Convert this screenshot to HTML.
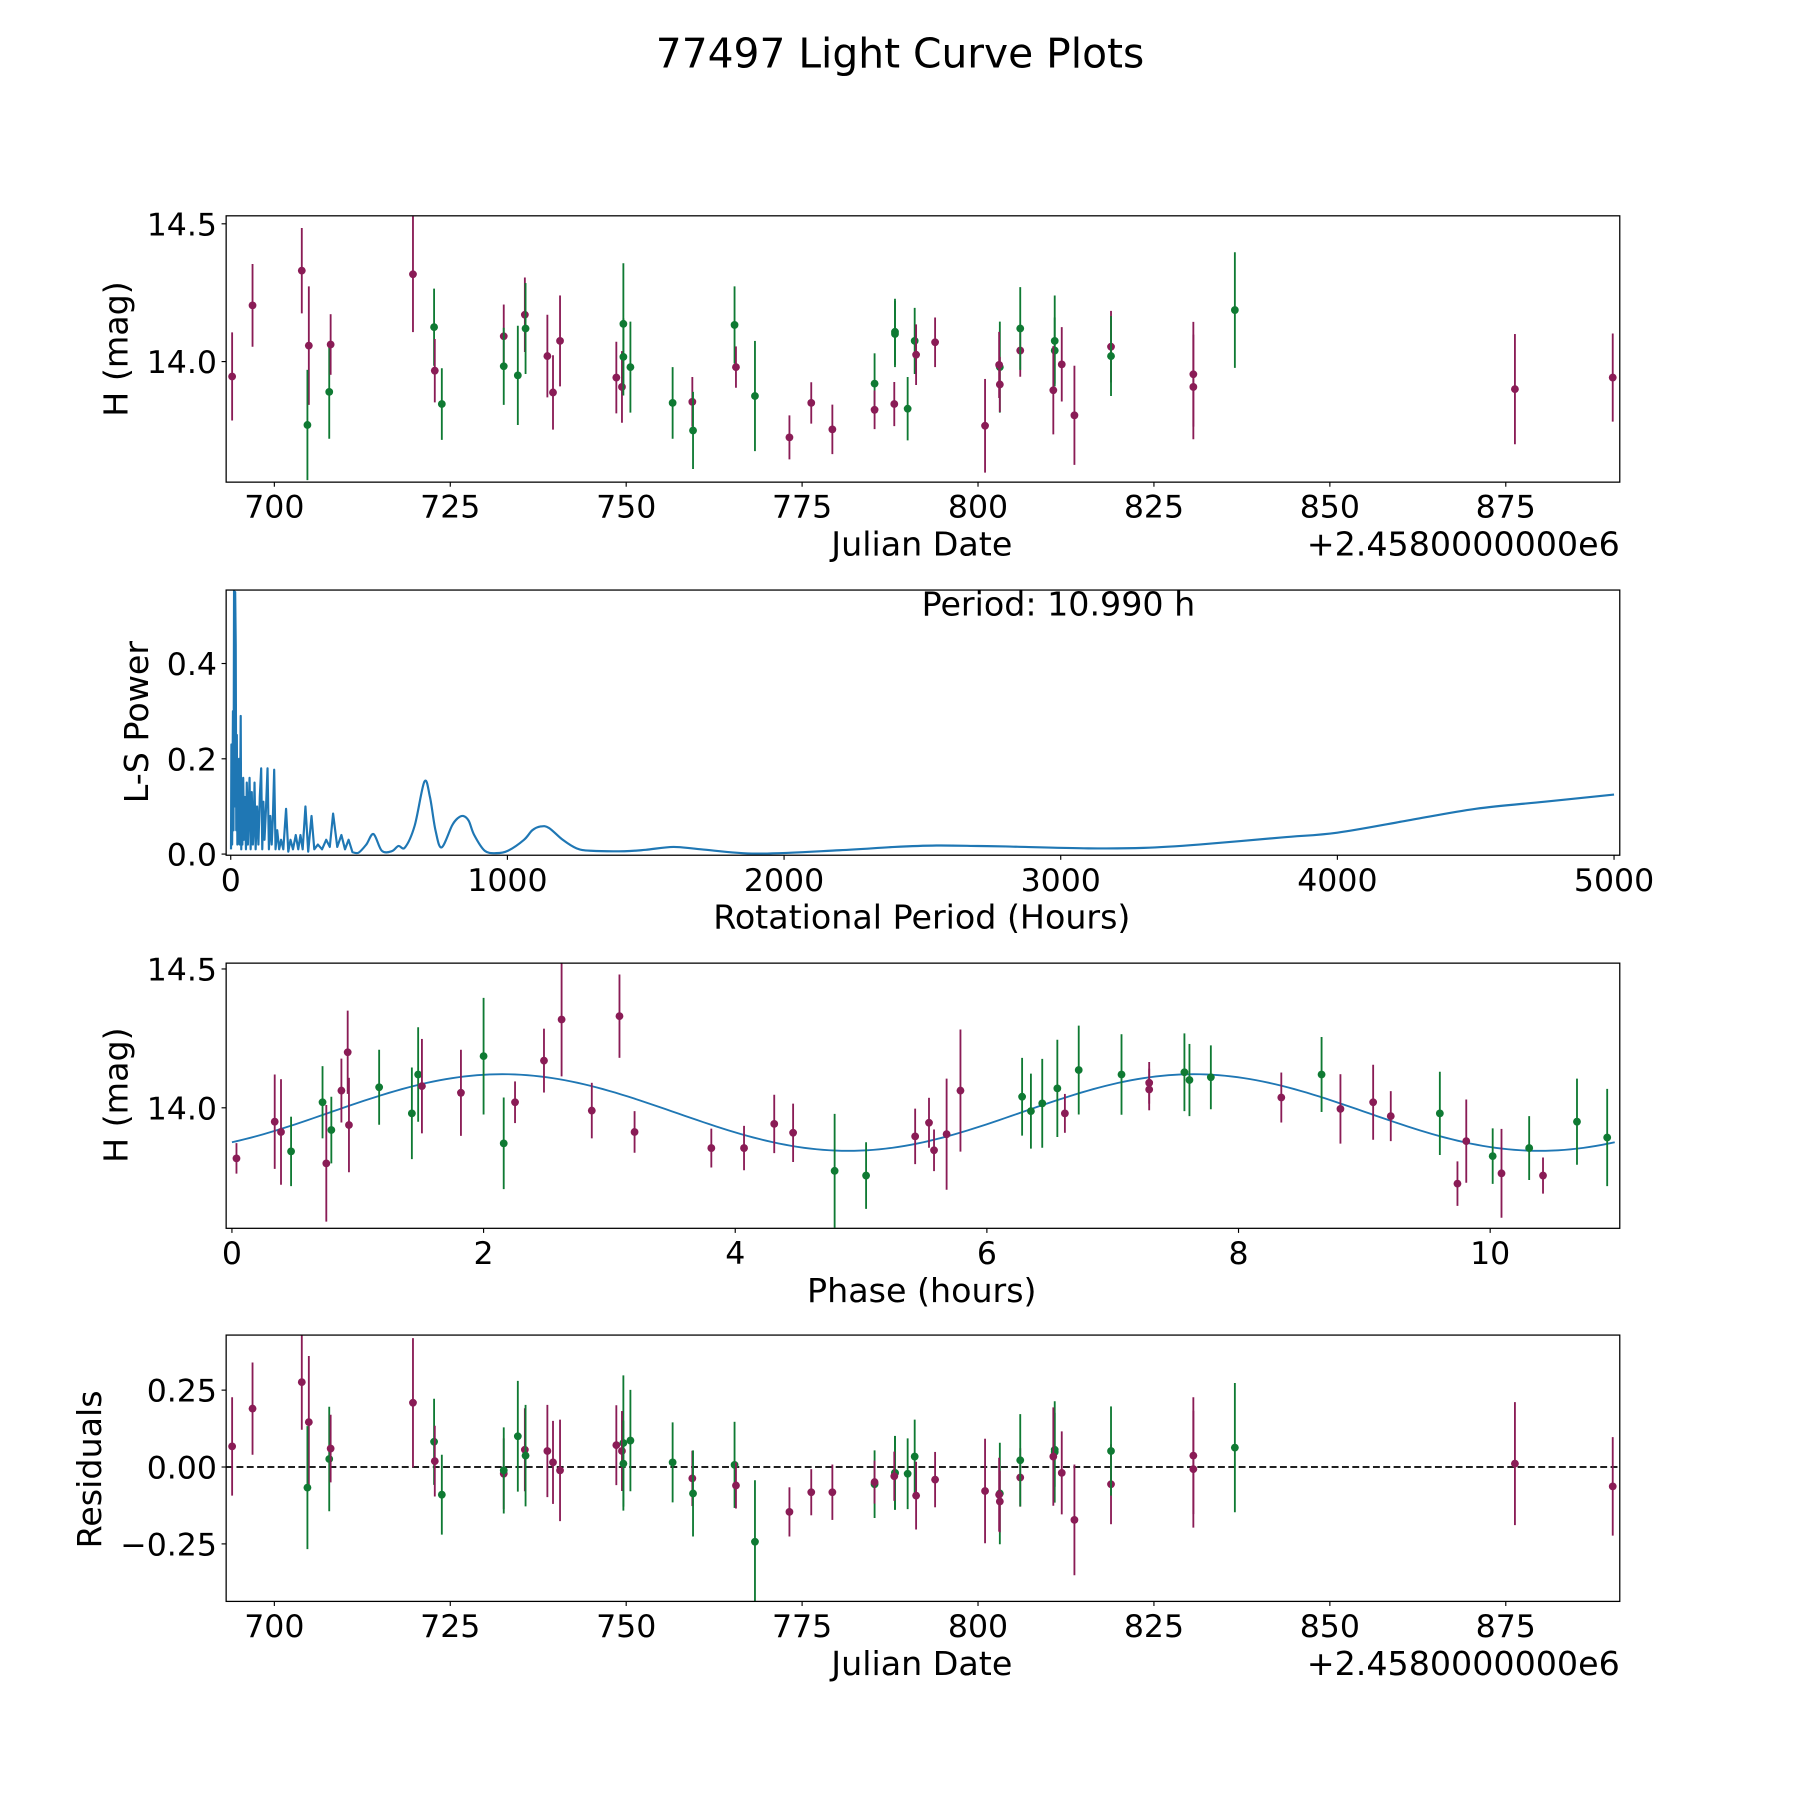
<!DOCTYPE html>
<html><head><meta charset="utf-8"><style>
html,body{margin:0;padding:0;background:#fff}
svg{display:block}
text{font-family:"DejaVu Sans","Liberation Sans",sans-serif;fill:#000}
</style></head><body>
<svg id="fig" width="1800" height="1800" viewBox="0 0 1568 1568" xmlns="http://www.w3.org/2000/svg">
<rect width="1568" height="1568" fill="#fff"/>
<text x="784" y="59" font-size="35.5" text-anchor="middle">77497 Light Curve Plots</text>
</svg>
<script>
// ---------- Data: raw light curve ----------
const dates = [694.0,696.9,703.9,704.9,704.7,707.8,708.0,719.7,722.7,722.8,723.8,732.6,732.6,734.6,735.6,735.7,738.8,739.6,740.6,748.6,749.6,749.4,749.6,750.6,756.6,759.4,759.5,765.4,765.6,768.3,773.2,776.3,779.3,785.3,785.3,788.2,788.2,788.1,790.0,791.0,791.2,793.9,801.0,803.1,803.0,803.1,806.0,806.0,810.9,810.9,810.7,811.9,813.7,818.9,818.9,830.6,830.6,836.5,876.3,890.2];
const mags = [13.946,14.204,14.33,14.058,13.77,13.89,14.062,14.317,14.125,13.967,13.846,14.092,13.983,13.95,14.17,14.12,14.02,13.888,14.075,13.942,14.137,13.908,14.017,13.98,13.85,13.854,13.75,14.133,13.98,13.875,13.725,13.85,13.754,13.92,13.825,14.108,14.1,13.846,13.829,14.075,14.025,14.07,13.767,13.98,13.988,13.917,14.04,14.12,14.075,14.04,13.896,13.99,13.805,14.054,14.02,13.954,13.908,14.187,13.9,13.942];
const magErrs = [0.16,0.15,0.155,0.215,0.2,0.17,0.11,0.21,0.14,0.115,0.13,0.115,0.14,0.18,0.135,0.165,0.15,0.135,0.165,0.13,0.22,0.13,0.14,0.165,0.13,0.09,0.14,0.14,0.075,0.2,0.08,0.075,0.09,0.11,0.07,0.12,0.12,0.08,0.115,0.12,0.11,0.09,0.17,0.165,0.12,0.1,0.095,0.15,0.165,0.12,0.16,0.135,0.18,0.13,0.145,0.19,0.19,0.21,0.2,0.16];
const filters = ['p','p','p','p','g','g','p','p','g','p','g','p','g','g','p','g','p','p','p','p','g','p','g','g','g','p','g','g','p','g','p','p','p','g','p','g','g','p','g','g','p','p','p','g','p','p','p','g','g','g','p','p','p','p','g','p','p','g','p','p'];
const residuals = [0.067,0.19,0.276,0.146,-0.067,0.026,0.06,0.209,0.082,0.019,-0.09,-0.022,-0.011,0.1,0.056,0.037,0.052,0.015,-0.011,0.071,0.078,0.052,0.011,0.086,0.015,-0.037,-0.086,0.007,-0.06,-0.243,-0.146,-0.082,-0.082,-0.056,-0.049,-0.019,-0.019,-0.03,-0.022,0.034,-0.093,-0.041,-0.078,-0.086,-0.09,-0.112,-0.034,0.022,0.049,0.056,0.034,-0.019,-0.172,-0.056,0.052,0.037,-0.007,0.063,0.011,-0.063];
// ---------- Data: phased ----------
const phases = [0.036,0.34,0.39,0.47,0.72,0.75,0.79,0.87,0.92,0.93,1.17,1.43,1.48,1.51,1.82,2.0,2.16,2.25,2.48,2.62,2.86,3.08,3.2,3.81,4.07,4.31,4.46,4.79,5.04,5.43,5.54,5.58,5.68,5.79,6.28,6.35,6.44,6.56,6.62,6.73,7.07,7.29,7.29,7.57,7.61,7.78,8.34,8.66,8.81,9.07,9.21,9.6,9.74,9.81,10.02,10.09,10.31,10.42,10.69,10.93];
const phaseMags = [13.818,13.95,13.913,13.843,14.02,13.80,13.92,14.062,14.2,13.938,14.074,13.98,14.12,14.078,14.054,14.186,13.872,14.02,14.17,14.318,13.99,14.33,13.913,13.855,13.855,13.942,13.91,13.773,13.756,13.897,13.946,13.847,13.905,14.062,14.04,13.988,14.016,14.07,13.98,14.136,14.12,14.09,14.066,14.128,14.1,14.11,14.037,14.12,13.996,14.02,13.97,13.98,13.727,13.88,13.826,13.764,13.855,13.756,13.95,13.893];
const phaseErrs = [0.055,0.17,0.19,0.125,0.13,0.21,0.12,0.115,0.15,0.17,0.135,0.165,0.17,0.17,0.155,0.21,0.165,0.075,0.115,0.205,0.1,0.15,0.075,0.07,0.08,0.105,0.105,0.205,0.12,0.1,0.09,0.075,0.2,0.22,0.14,0.135,0.16,0.175,0.07,0.16,0.145,0.075,0.075,0.14,0.13,0.115,0.09,0.135,0.125,0.135,0.09,0.15,0.08,0.15,0.1,0.16,0.115,0.065,0.155,0.175];
const phaseFilters = ['p','p','p','g','g','p','g','p','p','p','g','g','g','p','p','g','g','p','p','p','p','p','p','p','p','p','p','g','g','p','p','p','p','p','g','g','g','g','p','g','g','p','p','g','g','g','p','g','p','p','p','g','p','p','g','p','g','p','g','g'];
// fit model parameters: [mean, amplitude, peak phase, sub-period]
const fitParams = [13.983, 0.138, 2.15, 5.495];
// ---------- Data: periodogram, spiky short-period region ----------
const spikePeriods = [
 1,2.4,5,8,10,12,14,16,18,20,
 22,24,26,28,30,32,34,36,38,40,
 42,45,48,51,55,58,62,65,68,72,
 76,80,83,86,90,95,100,105,110,114,
 118,122,127,133,138,143,148,152,157,162,
 168,175,182,190,200,208,216,225,235,244,
 252,260,270,280,292,302,315,330,345,358,
 370,385,400,413,426,440];
const spikePower = [
 0.01,0.23,0.02,0.3,0.05,0.56,0.1,0.55,0.44,0.05,
 0.25,0.02,0.18,0.03,0.2,0.02,0.12,0.29,0.01,0.15,
 0.02,0.16,0.03,0.12,0.01,0.15,0.02,0.1,0.16,0.01,
 0.13,0.02,0.06,0.15,0.01,0.1,0.02,0.12,0.18,0.01,
 0.11,0.03,0.09,0.18,0.01,0.08,0.02,0.07,0.177,0.01,
 0.05,0.01,0.03,0.01,0.095,0.005,0.03,0.01,0.04,0.01,
 0.04,0.01,0.1,0.005,0.08,0.01,0.02,0.01,0.03,0.015,
 0.085,0.015,0.04,0.01,0.03,0.004];
// ---------- Data: periodogram, smooth long-period region ----------
const smoothPeriods = [
 440,462,490,516,546,582,606,630,665,700,
 720,740,762,800,820,840,860,880,918,960,
 1002,1060,1090,1120,1150,1200,1250,1302,1423,1500,
 1600,1700,1900,2200,2400,2550,2700,2800,3100,3300,
 3500,3800,4000,4250,4500,4750,5000];
const smoothPower = [
 0.004,0.003,0.02,0.042,0.007,0.006,0.017,0.014,0.06,0.152,
 0.12,0.05,0.014,0.06,0.075,0.08,0.07,0.04,0.007,0.002,
 0.007,0.03,0.05,0.058,0.055,0.03,0.012,0.007,0.006,0.009,
 0.015,0.01,0.001,0.008,0.015,0.018,0.017,0.016,0.012,0.013,
 0.02,0.035,0.045,0.07,0.095,0.11,0.125];
</script>
<script>
const NS='http://www.w3.org/2000/svg';
const svg=document.getElementById('fig');
const COL={p:'#8a1c56',g:'#0f7a33'};
const TF=27.5, LF=29;
function el(tag,attrs,parent){const e=document.createElementNS(NS,tag);for(const k in attrs)e.setAttribute(k,attrs[k]);(parent||svg).appendChild(e);return e;}
function lin(d0,d1,r0,r1){return v=>r0+(v-d0)*(r1-r0)/(d1-d0);}

function panel(name,L,T,R,B,xd,yd){
  const g=el('g',{});
  
  
  const cp=el('clipPath',{id:'clip-'+name},g);
  el('rect',{x:L,y:T,width:R-L,height:B-T},cp);
  const plot=el('g',{'clip-path':'url(#clip-'+name+')'},g);
  return {g,plot,L,T,R,B,x:lin(xd[0],xd[1],L,R),y:lin(yd[0],yd[1],B,T)};
}
function frame(p){
  const f=el('rect',{x:p.L,y:p.T,width:p.R-p.L,height:p.B-p.T,fill:'none',stroke:'#000','stroke-width':1.1},p.g);
  
  
}
function xticks(p,vals,labels,ly){
  vals.forEach((v,i)=>{const X=p.x(v);
    el('line',{x1:X,x2:X,y1:p.B,y2:p.B+4,stroke:'#000','stroke-width':1},p.g);
    const t=el('text',{x:X,y:ly,'font-size':TF,'text-anchor':'middle'},p.g);
    
    
    t.textContent=labels[i];});
}
function yticks(p,vals,labels){
  vals.forEach((v,i)=>{const Y=p.y(v);
    el('line',{x1:p.L-4,x2:p.L,y1:Y,y2:Y,stroke:'#000','stroke-width':1},p.g);
    const t=el('text',{x:p.L-8,y:Y+10,'font-size':TF,'text-anchor':'end'},p.g);
    
    
    t.textContent=labels[i];});
}
function label(p,txt,x,y,rot,name){
  const t=el('text',{x:x,y:y,'font-size':LF,'text-anchor':'middle'},p.g);
  if(rot)t.setAttribute('transform','rotate(-90 '+x+' '+y+')');
  
  
  t.textContent=txt;
}
function errpoints(p,xs,ys,es,fs,name){
  xs.forEach((xv,i)=>{const X=p.x(xv),Y=p.y(ys[i]),c=COL[fs[i]];
    const gg=el('g',{},p.plot);
    
    
    el('line',{x1:X,x2:X,y1:p.y(ys[i]-es[i]),y2:p.y(ys[i]+es[i]),stroke:c,'stroke-width':1.6},gg);
    el('circle',{cx:X,cy:Y,r:3.4,fill:c},gg);});
}

// Panel 1
const p1=panel('raw-light-curve',197,188,1411,420,[693.15,891.2],[13.5625,14.529]);
errpoints(p1,dates,mags,magErrs,filters,'observation-point');
frame(p1);
xticks(p1,[700,725,750,775,800,825,850,875],['700','725','750','775','800','825','850','875'],451);
yticks(p1,[14.0,14.5],['14.0','14.5']);
label(p1,'Julian Date',803,484,false,'x-axis-title');
const o1=el('text',{x:1411,y:484,'font-size':LF,'text-anchor':'end'},p1.g);


o1.textContent='+2.4580000000e6';
label(p1,'H (mag)',111,304,true,'y-axis-title');

// Panel 2
const p2=panel('periodogram',197,514,1411,745,[-16.6,5020.7],[-0.0024,0.5542]);
let d='';
spikePeriods.forEach((v,i)=>{d+=(i?'L':'M')+p2.x(v).toFixed(2)+' '+p2.y(spikePower[i]).toFixed(2);});
const sp=smoothPeriods.map((v,i)=>[p2.x(v),p2.y(smoothPower[i])]);
for(let i=0;i<sp.length-1;i++){
  const a=sp[Math.max(i-1,0)],b=sp[i],c=sp[i+1],e=sp[Math.min(i+2,sp.length-1)];
  const c1=[b[0]+(c[0]-a[0])/6,b[1]+(c[1]-a[1])/6],c2=[c[0]-(e[0]-b[0])/6,c[1]-(e[1]-b[1])/6];
  if(i===0)d+='L'+b[0].toFixed(2)+' '+b[1].toFixed(2);
  d+='C'+c1[0].toFixed(2)+' '+c1[1].toFixed(2)+' '+c2[0].toFixed(2)+' '+c2[1].toFixed(2)+' '+c[0].toFixed(2)+' '+c[1].toFixed(2);
}
const ln=el('path',{d:d,fill:'none',stroke:'#1f77b4','stroke-width':1.9,'stroke-linejoin':'round'},p2.plot);


frame(p2);
xticks(p2,[0,1000,2000,3000,4000,5000],['0','1000','2000','3000','4000','5000'],776);
yticks(p2,[0,0.2,0.4],['0.0','0.2','0.4']);
label(p2,'Rotational Period (Hours)',803,809,false,'x-axis-title');
label(p2,'L-S Power',129,629,true,'y-axis-title');
label(p2,'Period: 10.990 h',922,536,false,'period-annotation');

// Panel 3
const p3=panel('phased-light-curve',197,839,1411,1070,[-0.046,11.03],[13.566,14.521]);
let fd='';for(let i=0;i<=220;i++){const ph=i*10.99/220;const m=fitParams[0]+fitParams[1]*Math.cos(2*Math.PI*(ph-fitParams[2])/fitParams[3]);fd+=(i?'L':'M')+p3.x(ph).toFixed(2)+' '+p3.y(m).toFixed(2);}
const fl=el('path',{d:fd,fill:'none',stroke:'#1f77b4','stroke-width':1.6},p3.plot);


errpoints(p3,phases,phaseMags,phaseErrs,phaseFilters,'phased-point');
frame(p3);
xticks(p3,[0,2,4,6,8,10],['0','2','4','6','8','10'],1101);
yticks(p3,[14.0,14.5],['14.0','14.5']);
label(p3,'Phase (hours)',803,1134,false,'x-axis-title');
label(p3,'H (mag)',111,954,true,'y-axis-title');

// Panel 4
const p4=panel('residuals',197,1163,1411,1395,[693.15,891.2],[-0.437,0.429]);
const zl=el('line',{x1:p4.L,x2:p4.R,y1:p4.y(0),y2:p4.y(0),stroke:'#000','stroke-width':1.6,'stroke-dasharray':'6 3'},p4.plot);


errpoints(p4,dates,residuals,magErrs,filters,'residual-point');
frame(p4);
xticks(p4,[700,725,750,775,800,825,850,875],['700','725','750','775','800','825','850','875'],1426);
yticks(p4,[0.25,0,-0.25],['0.25','0.00','\u22120.25']);
label(p4,'Julian Date',803,1459,false,'x-axis-title');
const o4=el('text',{x:1411,y:1459,'font-size':LF,'text-anchor':'end'},p4.g);


o4.textContent='+2.4580000000e6';
label(p4,'Residuals',88,1280,true,'y-axis-title');
</script>
</body></html>
